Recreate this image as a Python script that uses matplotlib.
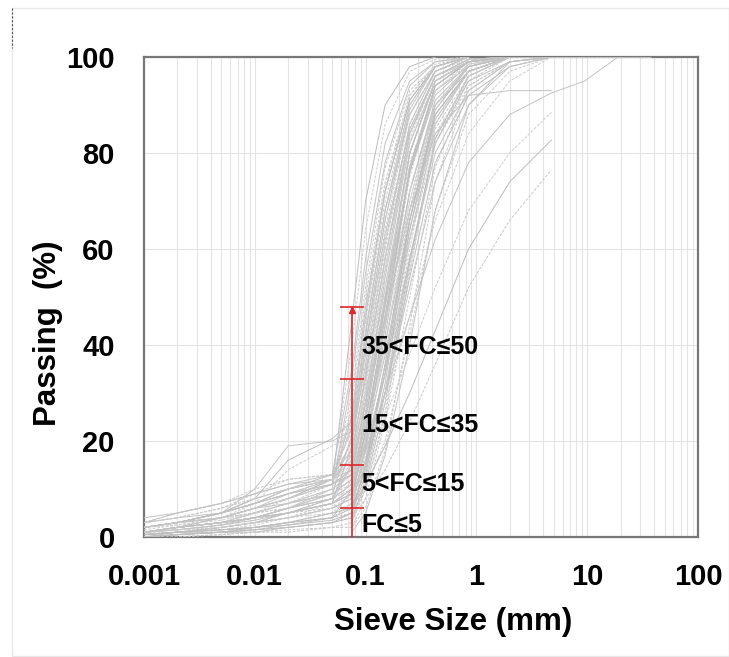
import numpy as np
import matplotlib
matplotlib.use("Agg")
import matplotlib.pyplot as plt
from matplotlib.ticker import LogLocator, NullFormatter
from matplotlib.patches import Rectangle
from matplotlib.lines import Line2D

N = np.nan

# Sieve / hydrometer sizes (mm)
sieve_mm = [0.001, 0.002, 0.005, 0.01, 0.02, 0.05, 0.075, 0.1, 0.15, 0.25,
            0.425, 0.85, 2.0, 4.75, 9.5, 19.0, 37.5]

# Curves with hydrometer (fine) part, % passing
fine_curves = [
    [1, 2, 3, 4, 6, 9, 12, 25, 48, 77, 94, 99, 100, N, N, N, N],
    [0.5, 1, 1.5, 2, 3, 5, 6, 16, 36, 68, 90, 98, 100, N, N, N, N],
    [2, 3, 5, 7, 10, 13, 18, 33, 58, 84, 96, 99, 100, 100, 100, 100, 100],
    [0, 0.5, 1, 1.5, 2, 3, 4, 12, 30, 60, 86, 97, 100, N, N, N, N],
    [1, 2, 4, 6, 8, 12, 16, 30, 52, 80, 95, 99, 100, N, N, N, N],
    [3, 4, 6, 9, 12, 13, 22, 38, 62, 86, 97, 100, N, N, N, N, N],
    [1, 1.5, 2.5, 4, 5, 7, 9, 20, 42, 72, 91, 98, 100, 100, 100, N, N],
    [0, 0, 0.5, 1, 1.5, 2, 3, 10, 25, 55, 83, 96, 100, N, N, N, N],
    [2, 3, 5, 10, 19, 20, 22, 42, 68, 88, 97, 100, N, N, N, N, N],
    [1.5, 2.5, 4, 7, 14, 19, 21, 35, 60, 85, 96, 99, 100, N, N, N, N],
    [2, 3, 5, 8, 16, 20.5, 24, 46, 72, 91, 98, 100, N, N, N, N, N],
    [0.5, 1, 2, 3, 4, 6, 8, 22, 46, 77, 94, 99, 100, N, N, N, N],
    [1, 2, 3, 5, 7, 10, 13, 28, 54, 82, 95, 99, 100, 100, 100, 100, 100],
    [0, 0.5, 1, 2, 3, 4, 5, 10, 20, 42, 68, 88, 97, 100, N, N, N],
    [2, 3, 5, 8, 10, 12, 25, 48, 72, 91, 98, 100, N, N, N, N, N],
    [1, 2, 3, 5, 8, 11, 30, 52, 77, 93, 98, 100, N, N, N, N, N],
    [3, 5, 7, 9, 11, 13, 35, 58, 82, 95, 99, 100, N, N, N, N, N],
    [2, 3, 5, 7, 9, 12, 40, 64, 86, 97, 99.5, 100, N, N, N, N, N],
    [1, 2, 4, 6, 8, 11, 45, 70, 90, 98, 100, N, N, N, N, N, N],
    [0.5, 1, 2, 3, 5, 8, 28, 50, 74, 92, 98, 100, N, N, N, N, N],
    [1, 2, 3, 4, 6, 10, 33, 55, 78, 94, 99, 100, N, N, N, N, N],
    [0.5, 1, 1.5, 2.5, 4, 7, 15, 32, 56, 83, 96, 99.5, 100, N, N, N, N],
    [0, 0.5, 1, 1.5, 2.5, 4, 10, 26, 50, 80, 95, 99, 100, N, N, N, N],
    [1, 2, 3, 5, 7, 11, 20, 40, 66, 88, 97, 99.5, 100, 100, 100, 100, N],
    [2, 3, 4, 6, 8, 12, 14, 26, 48, 76, 93, 98, 100, N, N, N, N],
    [1, 1, 2, 3, 4, 5, 7, 18, 40, 70, 90, 98, 100, N, N, N, N],
    [0, 0.5, 1, 1, 2, 3, 4, 11, 28, 57, 83, 96, 100, N, N, N, N],
    [3, 5, 7, 10, 12, 13, 26, 45, 70, 90, 98, 100, N, N, N, N, N],
    [2, 3, 4, 6, 9, 12, 17, 34, 58, 84, 96, 99.5, 100, N, N, N, N],
    [0.5, 1, 1.5, 2, 3, 5, 9, 22, 45, 75, 93, 99, 100, N, N, N, N],
    [1, 2, 3, 4, 5, 8, 11, 22, 44, 72, 90, 97, 100, N, N, N, N],
    [0, 0, 0.5, 1, 1, 2, 2, 6, 18, 44, 74, 93, 99, 100, N, N, N],
    [1, 2, 3, 4, 6, 9, 12, 19, 34, 58, 80, 93, 99, 100, N, N, N],
    [2, 3, 4, 5, 7, 10, 13, 18, 28, 46, 66, 84, 95, 100, 100, N, N],
    [0.5, 1, 2, 3, 4, 6, 8, 15, 30, 54, 78, 92, 98, 100, N, N, N],
    [1, 2, 3, 4, 6, 8, 18, 38, 64, 88, 97, 100, N, N, N, N, N],
    [2, 3, 5, 7, 10, 12, 23, 43, 68, 90, 98, 100, N, N, N, N, N],
    [1, 2, 3, 5, 7, 9, 11, 25, 50, 80, 95, 99, 100, N, N, N, N],
    [0, 1, 1, 2, 3, 5, 6, 19, 44, 77, 94, 99, 100, N, N, N, N],
    [1, 2, 4, 6, 8, 11, 14, 29, 55, 84, 96, 99.5, 100, 100, 100, 100, 100],
    [0.5, 1, 2, 3, 5, 7, 19, 40, 66, 89, 98, 100, N, N, N, N, N],
    [2, 3, 4, 6, 8, 11, 24, 47, 73, 92, 98.5, 100, N, N, N, N, N],
    [1, 1.5, 2.5, 3.5, 5, 7, 10, 24, 49, 80, 95, 99, 100, N, N, N, N],
    [0, 0.5, 1, 2, 3, 4, 7, 16, 36, 68, 90, 98, 100, N, N, N, N],
    [4, 5, 7, 9, 11, 12, 20, 36, 61, 86, 97, 100, N, N, N, N, N],
    [3, 4, 6, 8, 10, 12, 16, 31, 56, 82, 95, 99, 100, N, N, N, N],
    [2, 3, 5, 7, 9, 11, 13, 23, 40, 66, 87, 97, 100, N, N, N, N],
    [1, 2, 3, 4, 5, 6, 9, 18, 35, 62, 84, 95, 100, N, N, N, N],
    [1, 2, 3, 4, 5, 7, 10, 20, 38, 64, 86, 97, 100, N, N, N, N],
    [2, 3, 4, 5, 7, 9, 12, 24, 44, 70, 89, 98, 100, N, N, N, N],
    [0.5, 1, 1.5, 2, 3, 4, 6, 14, 30, 58, 82, 95, 99, 100, N, N, N],
    [1, 1.5, 2, 3, 4, 6, 8, 17, 34, 62, 85, 96, 100, N, N, N, N],
    [3, 4, 5, 7, 9, 11, 14, 28, 50, 76, 92, 98.5, 100, N, N, N, N],
    [2, 2.5, 3.5, 5, 6, 8, 11, 21, 40, 68, 88, 97, 100, N, N, N, N],
    [0.5, 1, 1.5, 2, 2.5, 3.5, 5, 13, 32, 64, 88, 97, 100, N, N, N, N],
    [1, 2, 3, 4, 6, 8, 16, 34, 58, 82, 95, 99, 100, N, N, N, N],
    [2, 3, 4, 6, 7, 9, 21, 40, 63, 85, 96, 99.5, 100, N, N, N, N],
    [1, 1.5, 2, 3, 4, 6, 12, 28, 52, 78, 93, 98.5, 100, N, N, N, N],
    [0, 0.5, 1, 1.5, 2, 3, 5, 15, 36, 66, 88, 97, 100, N, N, N, N],
    [2, 3, 4, 5, 6, 8, 10, 20, 38, 62, 82, 94, 99, 100, N, N, N],
    [1, 2, 3, 4, 5, 7, 9, 16, 30, 52, 74, 90, 98, 100, N, N, N],
    [3, 4, 6, 8, 10, 12, 15, 26, 46, 72, 90, 98, 100, N, N, N, N],
]

# Clean sand curves (sieve analysis only)
sand_curves = [
    [N, N, N, N, N, N, 5, 15, 34, 66, 89, 98, 100, N, N, N, N],
    [N, N, N, N, N, N, 2, 8, 24, 50, 77, 94, 99, 100, N, N, N],
    [N, N, N, N, N, N, 1, 5, 17, 40, 68, 90, 99, 100, 100, 100, 100],
    [N, N, N, N, N, N, 3, 12, 30, 62, 87, 97, 100, N, N, N, N],
    [N, N, N, N, N, N, 8, 22, 46, 76, 94, 99, 100, N, N, N, N],
    [N, N, N, N, N, N, 4, 10, 26, 56, 82, 96, 100, N, N, N, N],
]

# Widely graded curves ending below 100 % at 4.75 mm
graded_curves = [
    [N, N, N, N, N, N, 10, 18, 30, 46, 62, 78, 88, 92.5, 95, 100, N],
    [N, N, N, N, N, N, 9, 15, 25, 38, 52, 68, 80, 88.5, N, N, N],
    [N, N, N, N, N, N, 6, 11, 19, 30, 43, 60, 74, 82.7, N, N, N],
    [N, N, N, N, N, N, 4, 8, 14, 24, 36, 52, 66, 76.5, N, N, N],
    [1, 2, 3, 4, 6, 8, 15, 28, 46, 68, 84, 92, 93, 93, N, N, N],
]

# Fines-content classes
fc_size_mm = 0.075
fc_limits = [6, 15, 33, 48]
fc_labels = ["35<FC\u226450", "15<FC\u226435", "5<FC\u226415", "FC\u22645"]
fc_label_y = [39.6, 23.3, 11.0, 2.6]

x_ticks = [0.001, 0.01, 0.1, 1, 10, 100]
x_ticklabels = ["0.001", "0.01", "0.1", "1", "10", "100"]
y_ticks = [0, 20, 40, 60, 80, 100]

# ---------------------------------------------------------------
W, H = 729, 657
fig = plt.figure(figsize=(W / 100, H / 100), dpi=100)
ax = fig.add_axes([144 / W, 1 - 537 / H, 554 / W, 480 / H])

base_font = "Liberation Sans"

x = np.array(sieve_mm)
all_curves = fine_curves + sand_curves + graded_curves
greys = ["#c3c3c3", "#cdcdcd", "#bdbdbd", "#c8c8c8"]
for i, row in enumerate(all_curves):
    y = np.array(row, dtype=float)
    ls = (0, (3, 1.5)) if i % 2 == 1 else "-"
    ax.plot(x, y, color=greys[i % 4], lw=0.7, ls=ls, zorder=3)

# red fines-content bar
red = "#e0262c"
ax.plot([fc_size_mm, fc_size_mm], [0, fc_limits[-1]], color=red, lw=1.2, zorder=5)
ax.plot([fc_size_mm] * len(fc_limits), fc_limits, ls="none", marker="_",
        ms=17, mew=1.2, color=red, zorder=5)
ax.plot([fc_size_mm], [fc_limits[-1] - 0.8], ls="none", marker="^", ms=4.5,
        color=red, zorder=5)

for lab, yy in zip(fc_labels, fc_label_y):
    ax.text(0.092, yy, lab, ha="left", va="center", fontweight="bold",
            color="black", zorder=6, family=[base_font, "DejaVu Sans"],
            fontsize=18)

ax.set_xscale("log")
ax.set_xlim(0.001, 100)
ax.set_ylim(0, 100)
ax.set_xticks(x_ticks)
ax.set_xticklabels(x_ticklabels)
ax.xaxis.set_minor_locator(LogLocator(base=10, subs=np.arange(2, 10), numticks=20))
ax.xaxis.set_minor_formatter(NullFormatter())
ax.set_yticks(y_ticks)

for lab in ax.get_xticklabels() + ax.get_yticklabels():
    lab.set_fontfamily(base_font)
    lab.set_fontweight("bold")
    lab.set_fontsize(21)
ax.tick_params(axis="x", which="both", length=0, pad=19)
ax.tick_params(axis="y", which="both", length=0, pad=21)

ax.grid(True, axis="x", which="both", color="#e4e4e4", lw=0.8, zorder=0)
ax.grid(True, axis="y", which="major", color="#e4e4e4", lw=0.8, zorder=0)
ax.set_axisbelow(True)

for s in ax.spines.values():
    s.set_color("#777777")
    s.set_linewidth(1.6)
    s.set_zorder(2.5)

fig.text(453.5 / W, 1 - 622 / H, "Sieve Size (mm)", ha="center", va="center",
         fontsize=22.5, fontweight="bold", family=base_font)
fig.text(48 / W, 1 - 333 / H, "Passing  (%)", ha="center", va="center",
         rotation=90, fontsize=22.5, fontweight="bold", family=base_font)

# faint outer frame
fig.add_artist(Rectangle((12 / W, 1 - 656 / H), (W - 12) / W, (656 - 8) / H,
                         transform=fig.transFigure, fill=False,
                         ec="#e8e8e8", lw=1.0))
fig.add_artist(Line2D([12 / W, 12 / W], [1 - 8 / H, 1 - 48 / H],
                      transform=fig.transFigure, ls=(0, (2, 1.5)),
                      color="#555555", lw=0.8))

fig.savefig("out.png", dpi=100)
